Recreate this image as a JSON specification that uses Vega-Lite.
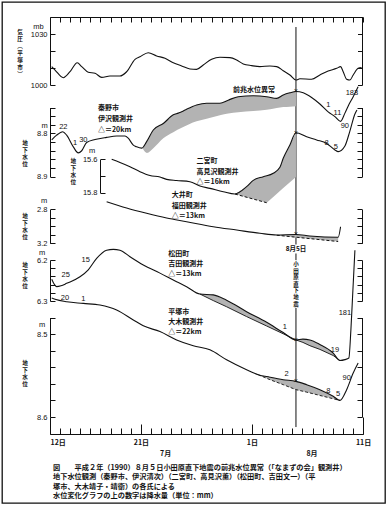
{
"$schema":"https://vega.github.io/schema/vega-lite/v6.json",
"width":383,"height":501,"padding":2,"autosize":"none",
"background":"white",
"config":{"view":{"stroke":"#111","strokeWidth":1.3},
"axis":{"grid":false,"domainColor":"#111","tickColor":"#111","labelColor":"#111","labelFont":"Liberation Sans","labelFontSize":7.5,"domainWidth":1,"tickWidth":1,"labelOverlap":false,"labelFlush":false,"labelBound":false}},
"title":{"text":["図　　平成２年（1990）８月５日小田原直下地震の前兆水位異常（「なまずの会」観測井）","　　　地下水位観測（秦野市、伊沢清次）（二宮町、高見沢薫）（松田町、吉田文一）（平","　　　塚市、大木靖子・靖衛）の各氏による","　　　水位変化グラフの上の数字は降水量（単位：mm）"],"orient":"bottom","anchor":"start","frame":"group","offset":-39,"dx":51,"font":"Noto Sans CJK JP","fontSize":7.2,"fontWeight":"bold","lineHeight":9.3,"color":"#111"},
"datasets":{
"pres":[{"t":0.17,"v":1010.8},{"t":0.5,"v":1008.8},{"t":1.32,"v":1004.3},{"t":1.98,"v":1007.8},{"t":2.7,"v":1013.1},{"t":3.14,"v":1010.8},{"t":3.79,"v":1007.5},{"t":4.46,"v":1006.9},{"t":5.12,"v":1004.5},{"t":5.94,"v":1005.3},{"t":6.93,"v":1005.3},{"t":7.59,"v":1007.8},{"t":8.42,"v":1015.1},{"t":8.91,"v":1016.6},{"t":9.73,"v":1019.0},{"t":10.56,"v":1017.1},{"t":11.39,"v":1015.7},{"t":12.21,"v":1013.1},{"t":13.04,"v":1011.2},{"t":13.86,"v":1009.4},{"t":14.52,"v":1009.2},{"t":15.18,"v":1011.8},{"t":16.01,"v":1015.1},{"t":16.83,"v":1016.3},{"t":17.82,"v":1016.1},{"t":18.49,"v":1014.7},{"t":19.14,"v":1012.4},{"t":19.97,"v":1011.4},{"t":20.79,"v":1010.8},{"t":21.78,"v":1011.2},{"t":22.45,"v":1010.8},{"t":23.1,"v":1008.4},{"t":23.76,"v":1005.9},{"t":24.36,"v":1002.9},{"t":24.75,"v":1003.7},{"t":25.91,"v":1003.4},{"t":26.73,"v":1005.9},{"t":27.55,"v":1008.2},{"t":28.39,"v":1009.8},{"t":28.78,"v":1010.8},{"t":29.04,"v":1007.8},{"t":29.38,"v":1003.4},{"t":29.7,"v":1002.9},{"t":30.03,"v":1005.9},{"t":30.52,"v":1009.8},{"t":30.86,"v":1010.2}],
"quake":[{"t":24.36,"v":1034.1,"v2":798.8}],
"presTxt":[{"t":-1.14,"v":1034.3,"s":"mb"}],
"presTitle":[{"t":-2.97,"v":1032.4,"s":"気\n圧\n︹\n平\n塚\n市\n︺"}],
"had":[{"t":0.17,"v":8.815},{"t":0.66,"v":8.804},{"t":1.26,"v":8.796},{"t":1.65,"v":8.804},{"t":2.31,"v":8.831},{"t":2.8,"v":8.845},{"t":3.14,"v":8.84},{"t":3.63,"v":8.821},{"t":4.46,"v":8.814},{"t":5.61,"v":8.809},{"t":6.6,"v":8.806},{"t":7.43,"v":8.806},{"t":7.75,"v":8.811},{"t":8.25,"v":8.827},{"t":8.58,"v":8.831},{"t":9.08,"v":8.834},{"t":9.57,"v":8.819},{"t":10.23,"v":8.792},{"t":11.22,"v":8.777},{"t":12.21,"v":8.757},{"t":12.7,"v":8.753},{"t":13.04,"v":8.75},{"t":13.53,"v":8.744},{"t":14.52,"v":8.734},{"t":15.51,"v":8.73},{"t":16.83,"v":8.73},{"t":17.65,"v":8.723},{"t":18.64,"v":8.715},{"t":20.13,"v":8.713},{"t":21.46,"v":8.715},{"t":22.45,"v":8.719},{"t":23.1,"v":8.711},{"t":23.76,"v":8.706},{"t":24.36,"v":8.703},{"t":25.08,"v":8.706},{"t":25.91,"v":8.717},{"t":26.73,"v":8.732},{"t":27.55,"v":8.75},{"t":28.22,"v":8.761},{"t":28.78,"v":8.772},{"t":29.21,"v":8.753},{"t":29.63,"v":8.732},{"t":30.03,"v":8.715},{"t":30.52,"v":8.692}],
"hadS":[{"t":9.21,"top":8.83,"bot":8.836},{"t":9.6,"top":8.818,"bot":8.845},{"t":10.23,"top":8.792,"bot":8.834},{"t":11.22,"top":8.777,"bot":8.811},{"t":12.21,"top":8.757,"bot":8.797},{"t":13.04,"top":8.75,"bot":8.787},{"t":14.52,"top":8.734,"bot":8.772},{"t":15.51,"top":8.73,"bot":8.766},{"t":16.83,"top":8.73,"bot":8.758},{"t":17.65,"top":8.723,"bot":8.754},{"t":18.64,"top":8.715,"bot":8.751},{"t":20.13,"top":8.713,"bot":8.748},{"t":21.46,"top":8.715,"bot":8.745},{"t":22.45,"top":8.719,"bot":8.741},{"t":23.1,"top":8.711,"bot":8.739},{"t":23.76,"top":8.706,"bot":8.738},{"t":24.36,"top":8.703,"bot":8.737}],
"hadTxt":[{"t":1.32,"v":8.784,"s":"22"},{"t":2.48,"v":8.823,"s":"1"},{"t":3.3,"v":8.814,"s":"30"},{"t":27.56,"v":8.734,"s":"1"},{"t":28.47,"v":8.752,"s":"11"},{"t":29.2,"v":8.783,"s":"90"},{"t":29.9,"v":8.707,"s":"183"},{"t":-0.54,"v":8.782,"s":"m"},{"t":24.36,"v":8.703,"s":"×"}],
"hadLab":[{"t":4.75,"v":8.742,"s":"秦野市"},{"t":4.75,"v":8.767,"s":"伊沢観測井"},{"t":4.75,"v":8.792,"s":"△＝20km"},{"t":18.12,"v":8.6995,"s":"前兆水位異常"}],
"hadTitle":[{"t":-2.48,"v":8.8175,"s":"地\n下\n水\n位"}],
"nin":[{"t":6.11,"v":15.6},{"t":6.93,"v":15.619},{"t":7.92,"v":15.644},{"t":8.91,"v":15.674},{"t":9.9,"v":15.697},{"t":10.89,"v":15.706},{"t":11.55,"v":15.72},{"t":12.54,"v":15.727},{"t":13.86,"v":15.734},{"t":14.85,"v":15.76},{"t":15.84,"v":15.774},{"t":17.16,"v":15.794},{"t":18.32,"v":15.808},{"t":19.47,"v":15.764},{"t":20.13,"v":15.726},{"t":21.12,"v":15.704},{"t":22.11,"v":15.684},{"t":22.77,"v":15.648},{"t":23.1,"v":15.594},{"t":23.76,"v":15.514},{"t":24.36,"v":15.441},{"t":25.42,"v":15.465},{"t":26.41,"v":15.484},{"t":27.4,"v":15.505},{"t":28.22,"v":15.544},{"t":28.54,"v":15.554},{"t":29.21,"v":15.52},{"t":29.7,"v":15.431},{"t":30.2,"v":15.329},{"t":30.4,"v":15.305}],
"ninS":[{"t":18.32,"top":15.808,"bot":15.808},{"t":19.47,"top":15.764,"bot":15.827},{"t":20.13,"top":15.726,"bot":15.838},{"t":21.12,"top":15.704,"bot":15.854},{"t":21.46,"top":15.698,"bot":15.86},{"t":22.11,"top":15.684,"bot":15.825},{"t":22.77,"top":15.648,"bot":15.79},{"t":23.1,"top":15.594,"bot":15.772},{"t":23.76,"top":15.514,"bot":15.737},{"t":24.36,"top":15.441,"bot":15.706}],
"ninD":[{"t":18.32,"v":15.808},{"t":21.46,"v":15.86}],
"ninTxt":[{"t":27.4,"v":15.502,"s":"8"},{"t":28.32,"v":15.528,"s":"5"},{"t":4.16,"v":15.552,"s":"m"},{"t":24.36,"v":15.441,"s":"×"}],
"ninLab":[{"t":14.52,"v":15.61,"s":"二宮町"},{"t":14.52,"v":15.674,"s":"高見沢観測井"},{"t":14.52,"v":15.734,"s":"△＝16km"}],
"ninTitle":[{"t":2.31,"v":15.598,"s":"地\n下\n水\n位"}],
"oi":[{"t":5.61,"v":2.711},{"t":7.59,"v":2.785},{"t":9.57,"v":2.847},{"t":11.55,"v":2.902},{"t":13.53,"v":2.946},{"t":16.17,"v":3.005},{"t":18.49,"v":3.044},{"t":20.79,"v":3.082},{"t":22.45,"v":3.102},{"t":24.36,"v":3.096},{"t":25.74,"v":3.114},{"t":28.54,"v":3.129},{"t":28.78,"v":3.005}],
"oiS":[{"t":22.45,"top":3.102,"bot":3.105},{"t":24.36,"top":3.096,"bot":3.131},{"t":25.74,"top":3.114,"bot":3.146},{"t":27.23,"top":3.122,"bot":3.164},{"t":28.54,"top":3.129,"bot":3.179}],
"oiD":[{"t":22.45,"v":3.105},{"t":28.54,"v":3.179}],
"oiTxt":[{"t":-0.59,"v":2.706,"s":"m"},{"t":24.36,"v":3.096,"s":"×"}],
"oiLab":[{"t":12.05,"v":2.632,"s":"大井町"},{"t":12.05,"v":2.758,"s":"福田観測井"},{"t":12.05,"v":2.875,"s":"△＝13km"}],
"oiTitle":[{"t":-2.48,"v":2.855,"s":"地\n下\n水\n位"}],
"oiGap":[{"t":23.27,"t2":25.45,"v":3.214,"v2":3.32}],
"oiDate":[{"t":24.36,"v":3.267,"s":"8月5日"}],
"mat":[{"t":0.17,"v":6.247},{"t":0.66,"v":6.265},{"t":1.09,"v":6.263},{"t":1.65,"v":6.257},{"t":2.97,"v":6.241},{"t":3.79,"v":6.224},{"t":4.62,"v":6.196},{"t":5.61,"v":6.176},{"t":6.27,"v":6.174},{"t":6.93,"v":6.176},{"t":7.92,"v":6.192},{"t":9.24,"v":6.212},{"t":10.89,"v":6.232},{"t":12.54,"v":6.253},{"t":13.53,"v":6.265},{"t":14.85,"v":6.283},{"t":16.17,"v":6.285},{"t":17.49,"v":6.298},{"t":19.47,"v":6.326},{"t":21.46,"v":6.352},{"t":23.1,"v":6.377},{"t":24.36,"v":6.395},{"t":25.05,"v":6.393},{"t":25.74,"v":6.395},{"t":26.73,"v":6.406},{"t":28.05,"v":6.427},{"t":28.71,"v":6.445},{"t":29.21,"v":6.443},{"t":29.6,"v":6.439},{"t":29.8,"v":6.371},{"t":30.0,"v":6.273},{"t":30.2,"v":6.176}],
"matS":[{"t":14.85,"top":6.283,"bot":6.283},{"t":16.17,"top":6.285,"bot":6.299},{"t":17.49,"top":6.298,"bot":6.314},{"t":19.47,"top":6.326,"bot":6.338},{"t":21.46,"top":6.352,"bot":6.361},{"t":23.1,"top":6.377,"bot":6.38},{"t":24.36,"top":6.395,"bot":6.395},{"t":25.05,"top":6.393,"bot":6.401},{"t":25.74,"top":6.395,"bot":6.409},{"t":26.73,"top":6.406,"bot":6.418},{"t":28.05,"top":6.427,"bot":6.433},{"t":28.71,"top":6.445,"bot":6.445}],
"matTxt":[{"t":1.56,"v":6.237,"s":"25"},{"t":3.54,"v":6.2,"s":"15"},{"t":23.27,"v":6.363,"s":"1"},{"t":28.22,"v":6.42,"s":"19"},{"t":29.21,"v":6.329,"s":"181"},{"t":-0.79,"v":6.183,"s":"m"},{"t":24.36,"v":6.395,"s":"×"}],
"matLab":[{"t":11.71,"v":6.185,"s":"松田町"},{"t":11.71,"v":6.21,"s":"吉田観測井"},{"t":11.71,"v":6.234,"s":"△＝13km"}],
"matTitle":[{"t":-2.48,"v":6.207,"s":"地\n下\n水\n位"}],
"quakeGap":[{"t":24.01,"t2":24.7,"v":6.2,"v2":6.317}],
"quakeName":[{"t":24.36,"v":6.205,"s":"小\n田\n原\n直\n下\n地\n震"}],
"hir":[{"t":0.17,"v":8.4565},{"t":0.5,"v":8.458},{"t":1.65,"v":8.461},{"t":3.3,"v":8.463},{"t":4.95,"v":8.465},{"t":6.6,"v":8.471},{"t":8.25,"v":8.483},{"t":9.24,"v":8.49},{"t":10.89,"v":8.497},{"t":12.54,"v":8.507},{"t":14.19,"v":8.514},{"t":15.84,"v":8.519},{"t":17.49,"v":8.531},{"t":19.47,"v":8.543},{"t":20.62,"v":8.549},{"t":21.78,"v":8.552},{"t":23.1,"v":8.555},{"t":24.36,"v":8.557},{"t":25.42,"v":8.561},{"t":26.73,"v":8.567},{"t":28.05,"v":8.575},{"t":28.71,"v":8.58},{"t":29.38,"v":8.567},{"t":30.03,"v":8.547},{"t":30.52,"v":8.535}],
"hirS":[{"t":20.62,"top":8.549,"bot":8.549},{"t":21.78,"top":8.552,"bot":8.555},{"t":23.1,"top":8.555,"bot":8.561},{"t":24.36,"top":8.557,"bot":8.567},{"t":25.42,"top":8.561,"bot":8.57},{"t":26.73,"top":8.567,"bot":8.574},{"t":28.05,"top":8.575,"bot":8.578},{"t":28.71,"top":8.58,"bot":8.58}],
"hirTxt":[{"t":1.49,"v":8.457,"s":"20"},{"t":3.3,"v":8.458,"s":"1"},{"t":23.43,"v":8.548,"s":"2"},{"t":27.56,"v":8.569,"s":"8"},{"t":28.54,"v":8.572,"s":"5"},{"t":29.38,"v":8.553,"s":"90"},{"t":-0.79,"v":8.489,"s":"m"},{"t":24.36,"v":8.557,"s":"×"}],
"hirLab":[{"t":11.71,"v":8.473,"s":"平塚市"},{"t":11.71,"v":8.485,"s":"大木観測井"},{"t":11.71,"v":8.497,"s":"△＝22km"}],
"hirTitle":[{"t":-2.48,"v":8.532,"s":"地\n下\n水\n位"}]
},
"layer":[
{"data":{"name":"pres"},"mark":{"type":"line","color":"#111","strokeWidth":1.1,"interpolate":"monotone"},
"encoding":{"x":{"field":"t","type":"quantitative","scale":{"domain":[0,31],"range":[48,361],"nice":false,"zero":false},
"axis":{"orient":"bottom","offset":-69,"values":[0,9,20,31],"ticks":false,"domain":true,"labelPadding":4,"labelExpr":"datum.value==0?'12日':datum.value==9?'21日':datum.value==20?'1日':'11日'","labelFont":"Noto Sans CJK JP","labelFontWeight":"bold","labelFontSize":7,"labelAlign":{"condition":{"test":"datum.value==0","value":"left"},"value":"center"},"title":null}},
"y":{"field":"v","type":"quantitative","scale":{"domain":[1000,1040],"range":[83,15],"nice":false,"zero":false},
"axis":{"orient":"left","offset":-48,"values":[1000,1010,1020,1030],"tickSize":-5,"labelPadding":8,"format":"d","labelExpr":"datum.value==1000||datum.value==1030?datum.label:''","title":null}}}},
{"data":{"name":"quake"},"mark":{"type":"rule","color":"#111","strokeWidth":1},
"encoding":{"x":{"field":"t","type":"quantitative","scale":{"domain":[0,31],"range":[48,361],"nice":false,"zero":false},"axis":null},
"y":{"field":"v","type":"quantitative","scale":{"domain":[1000,1040],"range":[83,15],"nice":false,"zero":false},
"axis":{"orient":"right","offset":-23,"values":[1000,1010,1020,1030],"tickSize":-4.5,"labels":false,"title":null}},
"y2":{"field":"v2"}}},
{"data":{"name":"presTxt"},"mark":{"type":"text","font":"Liberation Sans","fontSize":7.5,"color":"#111","align":"center","baseline":"middle"},
"encoding":{"x":{"field":"t","type":"quantitative","scale":{"domain":[0,31],"range":[48,361],"nice":false,"zero":false},"axis":null},
"y":{"field":"v","type":"quantitative","scale":{"domain":[1000,1040],"range":[83,15],"nice":false,"zero":false},"axis":null},"text":{"field":"s"}}},
{"data":{"name":"presTitle"},"mark":{"type":"text","font":"Noto Sans CJK JP","fontWeight":"bold","fontSize":5.6,"lineHeight":7,"lineBreak":"\n","color":"#111","align":"center","baseline":"top"},
"encoding":{"x":{"field":"t","type":"quantitative","scale":{"domain":[0,31],"range":[48,361],"nice":false,"zero":false},"axis":null},
"y":{"field":"v","type":"quantitative","scale":{"domain":[1000,1040],"range":[83,15],"nice":false,"zero":false},"axis":null},"text":{"field":"s"}}},

{"data":{"name":"hadS"},"mark":{"type":"area","color":"#b3b3b3","interpolate":"monotone"},
"encoding":{"x":{"field":"t","type":"quantitative","scale":{"domain":[0,31],"range":[48,361],"nice":false,"zero":false},"axis":null},
"y":{"field":"top","type":"quantitative","scale":{"domain":[8.74,8.9],"range":[105.5,174.7],"nice":false,"zero":false},
"axis":{"orient":"right","offset":-23,"values":[8.74,8.76,8.78,8.8,8.82,8.84,8.86,8.88,8.9],"tickSize":-5,"labels":false,"title":null}},"y2":{"field":"bot"}}},
{"data":{"name":"had"},"mark":{"type":"line","color":"#111","strokeWidth":1.1,"interpolate":"monotone"},
"encoding":{"x":{"field":"t","type":"quantitative","scale":{"domain":[0,31],"range":[48,361],"nice":false,"zero":false},
"axis":{"orient":"bottom","offset":-69,"values":[0,1,2,3,4,5,6,7,8,9,10,11,12,13,14,15,16,17,18,19,20,21,22,23,24,25,26,27,28,29,30,31],"tickSize":-6,"labels":false,"domain":false,"title":null}},
"y":{"field":"v","type":"quantitative","scale":{"domain":[8.74,8.9],"range":[105.5,174.7],"nice":false,"zero":false},
"axis":{"orient":"left","offset":-48,"values":[8.74,8.76,8.78,8.8,8.82,8.84,8.86,8.88,8.9],"tickSize":-5,"labelPadding":8,"labelExpr":"datum.value==8.8||datum.value==8.9?format(datum.value,'.1f'):''","title":null}}}},
{"data":{"name":"hadTxt"},"mark":{"type":"text","font":"Liberation Sans","fontSize":7.5,"color":"#111","align":"center","baseline":"middle"},
"encoding":{"x":{"field":"t","type":"quantitative","scale":{"domain":[0,31],"range":[48,361],"nice":false,"zero":false},"axis":null},
"y":{"field":"v","type":"quantitative","scale":{"domain":[8.74,8.9],"range":[105.5,174.7],"nice":false,"zero":false},"axis":null},"text":{"field":"s"}}},
{"data":{"name":"hadLab"},"mark":{"type":"text","font":"Noto Sans CJK JP","fontWeight":"bold","fontSize":7,"color":"#111","align":"left","baseline":"middle"},
"encoding":{"x":{"field":"t","type":"quantitative","scale":{"domain":[0,31],"range":[48,361],"nice":false,"zero":false},"axis":null},
"y":{"field":"v","type":"quantitative","scale":{"domain":[8.74,8.9],"range":[105.5,174.7],"nice":false,"zero":false},"axis":null},"text":{"field":"s"}}},
{"data":{"name":"hadTitle"},"mark":{"type":"text","font":"Noto Sans CJK JP","fontWeight":"bold","fontSize":5.6,"lineHeight":7,"lineBreak":"\n","color":"#111","align":"center","baseline":"top"},
"encoding":{"x":{"field":"t","type":"quantitative","scale":{"domain":[0,31],"range":[48,361],"nice":false,"zero":false},"axis":null},
"y":{"field":"v","type":"quantitative","scale":{"domain":[8.74,8.9],"range":[105.5,174.7],"nice":false,"zero":false},"axis":null},"text":{"field":"s"}}},

{"data":{"name":"ninS"},"mark":{"type":"area","color":"#b3b3b3","interpolate":"linear"},
"encoding":{"x":{"field":"t","type":"quantitative","scale":{"domain":[0,31],"range":[48,361],"nice":false,"zero":false},"axis":null},
"y":{"field":"top","type":"quantitative","scale":{"domain":[15.6,15.8],"range":[157.3,190.7],"nice":false,"zero":false},"axis":null},"y2":{"field":"bot"}}},
{"data":{"name":"ninD"},"mark":{"type":"line","color":"#111","strokeWidth":1,"strokeDash":[3,2]},
"encoding":{"x":{"field":"t","type":"quantitative","scale":{"domain":[0,31],"range":[48,361],"nice":false,"zero":false},"axis":null},
"y":{"field":"v","type":"quantitative","scale":{"domain":[15.6,15.8],"range":[157.3,190.7],"nice":false,"zero":false},"axis":null}}},
{"data":{"name":"nin"},"mark":{"type":"line","color":"#111","strokeWidth":1.1,"interpolate":"monotone"},
"encoding":{"x":{"field":"t","type":"quantitative","scale":{"domain":[0,31],"range":[48,361],"nice":false,"zero":false},
"axis":{"orient":"bottom","offset":-69,"values":[9,20],"tickSize":-10,"labels":false,"domain":false,"title":null}},
"y":{"field":"v","type":"quantitative","scale":{"domain":[15.6,15.8],"range":[157.3,190.7],"nice":false,"zero":false},
"axis":{"orient":"left","offset":-98,"values":[15.6,15.7,15.8],"tickSize":-5,"labelPadding":8,"labelExpr":"datum.value==15.6||datum.value==15.8?format(datum.value,'.1f'):''","title":null}}}},
{"data":{"name":"ninTxt"},"mark":{"type":"text","font":"Liberation Sans","fontSize":7.5,"color":"#111","align":"center","baseline":"middle"},
"encoding":{"x":{"field":"t","type":"quantitative","scale":{"domain":[0,31],"range":[48,361],"nice":false,"zero":false},"axis":null},
"y":{"field":"v","type":"quantitative","scale":{"domain":[15.6,15.8],"range":[157.3,190.7],"nice":false,"zero":false},"axis":null},"text":{"field":"s"}}},
{"data":{"name":"ninLab"},"mark":{"type":"text","font":"Noto Sans CJK JP","fontWeight":"bold","fontSize":7,"color":"#111","align":"left","baseline":"middle"},
"encoding":{"x":{"field":"t","type":"quantitative","scale":{"domain":[0,31],"range":[48,361],"nice":false,"zero":false},"axis":null},
"y":{"field":"v","type":"quantitative","scale":{"domain":[15.6,15.8],"range":[157.3,190.7],"nice":false,"zero":false},"axis":null},"text":{"field":"s"}}},
{"data":{"name":"ninTitle"},"mark":{"type":"text","font":"Noto Sans CJK JP","fontWeight":"bold","fontSize":5.6,"lineHeight":7,"lineBreak":"\n","color":"#111","align":"center","baseline":"top"},
"encoding":{"x":{"field":"t","type":"quantitative","scale":{"domain":[0,31],"range":[48,361],"nice":false,"zero":false},"axis":null},
"y":{"field":"v","type":"quantitative","scale":{"domain":[15.6,15.8],"range":[157.3,190.7],"nice":false,"zero":false},"axis":null},"text":{"field":"s"}}},

{"data":{"name":"oiS"},"mark":{"type":"area","color":"#b3b3b3"},
"encoding":{"x":{"field":"t","type":"quantitative","scale":{"domain":[0,31],"range":[48,361],"nice":false,"zero":false},"axis":null},
"y":{"field":"top","type":"quantitative","scale":{"domain":[2.8,3.2],"range":[207.3,241.3],"nice":false,"zero":false},
"axis":{"orient":"right","offset":-23,"values":[2.8,2.9,3.0,3.1,3.2],"tickSize":-5,"labels":false,"title":null}},"y2":{"field":"bot"}}},
{"data":{"name":"oiD"},"mark":{"type":"line","color":"#111","strokeWidth":1,"strokeDash":[3,2]},
"encoding":{"x":{"field":"t","type":"quantitative","scale":{"domain":[0,31],"range":[48,361],"nice":false,"zero":false},"axis":null},
"y":{"field":"v","type":"quantitative","scale":{"domain":[2.8,3.2],"range":[207.3,241.3],"nice":false,"zero":false},"axis":null}}},
{"data":{"name":"oi"},"mark":{"type":"line","color":"#111","strokeWidth":1.1,"interpolate":"monotone"},
"encoding":{"x":{"field":"t","type":"quantitative","scale":{"domain":[0,31],"range":[48,361],"nice":false,"zero":false},
"axis":{"orient":"bottom","offset":-69,"values":[0,31],"tickSize":-17,"labels":false,"domain":false,"title":null}},
"y":{"field":"v","type":"quantitative","scale":{"domain":[2.8,3.2],"range":[207.3,241.3],"nice":false,"zero":false},
"axis":{"orient":"left","offset":-48,"values":[2.8,2.9,3.0,3.1,3.2],"tickSize":-5,"labelPadding":8,"labelExpr":"datum.value==2.8||datum.value==3.2?format(datum.value,'.1f'):''","title":null}}}},
{"data":{"name":"oiTxt"},"mark":{"type":"text","font":"Liberation Sans","fontSize":7.5,"color":"#111","align":"center","baseline":"middle"},
"encoding":{"x":{"field":"t","type":"quantitative","scale":{"domain":[0,31],"range":[48,361],"nice":false,"zero":false},"axis":null},
"y":{"field":"v","type":"quantitative","scale":{"domain":[2.8,3.2],"range":[207.3,241.3],"nice":false,"zero":false},"axis":null},"text":{"field":"s"}}},
{"data":{"name":"oiLab"},"mark":{"type":"text","font":"Noto Sans CJK JP","fontWeight":"bold","fontSize":7,"color":"#111","align":"left","baseline":"middle"},
"encoding":{"x":{"field":"t","type":"quantitative","scale":{"domain":[0,31],"range":[48,361],"nice":false,"zero":false},"axis":null},
"y":{"field":"v","type":"quantitative","scale":{"domain":[2.8,3.2],"range":[207.3,241.3],"nice":false,"zero":false},"axis":null},"text":{"field":"s"}}},
{"data":{"name":"oiTitle"},"mark":{"type":"text","font":"Noto Sans CJK JP","fontWeight":"bold","fontSize":5.6,"lineHeight":7,"lineBreak":"\n","color":"#111","align":"center","baseline":"top"},
"encoding":{"x":{"field":"t","type":"quantitative","scale":{"domain":[0,31],"range":[48,361],"nice":false,"zero":false},"axis":null},
"y":{"field":"v","type":"quantitative","scale":{"domain":[2.8,3.2],"range":[207.3,241.3],"nice":false,"zero":false},"axis":null},"text":{"field":"s"}}},
{"data":{"name":"oiGap"},"mark":{"type":"rect","color":"white"},
"encoding":{"x":{"field":"t","type":"quantitative","scale":{"domain":[0,31],"range":[48,361],"nice":false,"zero":false},"axis":null},"x2":{"field":"t2"},
"y":{"field":"v","type":"quantitative","scale":{"domain":[2.8,3.2],"range":[207.3,241.3],"nice":false,"zero":false},"axis":null},"y2":{"field":"v2"}}},
{"data":{"name":"oiDate"},"mark":{"type":"text","font":"Noto Sans CJK JP","fontWeight":"bold","fontSize":6.5,"color":"#111","align":"center","baseline":"middle"},
"encoding":{"x":{"field":"t","type":"quantitative","scale":{"domain":[0,31],"range":[48,361],"nice":false,"zero":false},"axis":null},
"y":{"field":"v","type":"quantitative","scale":{"domain":[2.8,3.2],"range":[207.3,241.3],"nice":false,"zero":false},"axis":null},"text":{"field":"s"}}},

{"data":{"name":"matS"},"mark":{"type":"area","color":"#b3b3b3"},
"encoding":{"x":{"field":"t","type":"quantitative","scale":{"domain":[0,31],"range":[48,361],"nice":false,"zero":false},"axis":null},
"y":{"field":"top","type":"quantitative","scale":{"domain":[6.2,6.3],"range":[258,299],"nice":false,"zero":false},
"axis":{"orient":"right","offset":-23,"values":[6.2,6.22,6.24,6.26,6.28,6.3],"tickSize":-5,"labels":false,"title":null}},"y2":{"field":"bot"}}},
{"data":{"name":"matS"},"mark":{"type":"line","color":"#111","strokeWidth":0.9},
"encoding":{"x":{"field":"t","type":"quantitative","scale":{"domain":[0,31],"range":[48,361],"nice":false,"zero":false},"axis":null},
"y":{"field":"bot","type":"quantitative","scale":{"domain":[6.2,6.3],"range":[258,299],"nice":false,"zero":false},"axis":null}}},
{"data":{"name":"mat"},"mark":{"type":"line","color":"#111","strokeWidth":1.1,"interpolate":"monotone"},
"encoding":{"x":{"field":"t","type":"quantitative","scale":{"domain":[0,31],"range":[48,361],"nice":false,"zero":false},
"axis":{"orient":"top","offset":-15,"values":[0,1,2,3,4,5,6,7,8,9,10,11,12,13,14,15,16,17,18,19,20,21,22,23,24,25,26,27,28,29,30,31],"tickSize":-5,"labels":false,"domain":true,"title":null}},
"y":{"field":"v","type":"quantitative","scale":{"domain":[6.2,6.3],"range":[258,299],"nice":false,"zero":false},
"axis":{"orient":"left","offset":-48,"values":[6.2,6.22,6.24,6.26,6.28,6.3],"tickSize":-5,"labelPadding":8,"labelExpr":"datum.value==6.2||datum.value==6.3?format(datum.value,'.1f'):''","title":null}}}},
{"data":{"name":"matTxt"},"mark":{"type":"text","font":"Liberation Sans","fontSize":7.5,"color":"#111","align":"center","baseline":"middle"},
"encoding":{"x":{"field":"t","type":"quantitative","scale":{"domain":[0,31],"range":[48,361],"nice":false,"zero":false},"axis":null},
"y":{"field":"v","type":"quantitative","scale":{"domain":[6.2,6.3],"range":[258,299],"nice":false,"zero":false},"axis":null},"text":{"field":"s"}}},
{"data":{"name":"matLab"},"mark":{"type":"text","font":"Noto Sans CJK JP","fontWeight":"bold","fontSize":7,"color":"#111","align":"left","baseline":"middle"},
"encoding":{"x":{"field":"t","type":"quantitative","scale":{"domain":[0,31],"range":[48,361],"nice":false,"zero":false},"axis":null},
"y":{"field":"v","type":"quantitative","scale":{"domain":[6.2,6.3],"range":[258,299],"nice":false,"zero":false},"axis":null},"text":{"field":"s"}}},
{"data":{"name":"matTitle"},"mark":{"type":"text","font":"Noto Sans CJK JP","fontWeight":"bold","fontSize":5.6,"lineHeight":7,"lineBreak":"\n","color":"#111","align":"center","baseline":"top"},
"encoding":{"x":{"field":"t","type":"quantitative","scale":{"domain":[0,31],"range":[48,361],"nice":false,"zero":false},"axis":null},
"y":{"field":"v","type":"quantitative","scale":{"domain":[6.2,6.3],"range":[258,299],"nice":false,"zero":false},"axis":null},"text":{"field":"s"}}},
{"data":{"name":"quakeGap"},"mark":{"type":"rect","color":"white"},
"encoding":{"x":{"field":"t","type":"quantitative","scale":{"domain":[0,31],"range":[48,361],"nice":false,"zero":false},"axis":null},"x2":{"field":"t2"},
"y":{"field":"v","type":"quantitative","scale":{"domain":[6.2,6.3],"range":[258,299],"nice":false,"zero":false},"axis":null},"y2":{"field":"v2"}}},
{"data":{"name":"quakeName"},"mark":{"type":"text","font":"Noto Sans CJK JP","fontWeight":"bold","fontSize":5.5,"lineHeight":6.6,"lineBreak":"\n","color":"#111","align":"center","baseline":"top"},
"encoding":{"x":{"field":"t","type":"quantitative","scale":{"domain":[0,31],"range":[48,361],"nice":false,"zero":false},"axis":null},
"y":{"field":"v","type":"quantitative","scale":{"domain":[6.2,6.3],"range":[258,299],"nice":false,"zero":false},"axis":null},"text":{"field":"s"}}},

{"data":{"name":"hirS"},"mark":{"type":"area","color":"#b3b3b3"},
"encoding":{"x":{"field":"t","type":"quantitative","scale":{"domain":[0,31],"range":[48,361],"nice":false,"zero":false},"axis":null},
"y":{"field":"top","type":"quantitative","scale":{"domain":[8.48,8.6],"range":[315.5,415],"nice":false,"zero":false},
"axis":{"orient":"right","offset":-23,"values":[8.48,8.5,8.52,8.54,8.56,8.58,8.6],"tickSize":-5,"labels":false,"title":null}},"y2":{"field":"bot"}}},
{"data":{"name":"hirS"},"mark":{"type":"line","color":"#111","strokeWidth":0.9,"strokeDash":[3,2]},
"encoding":{"x":{"field":"t","type":"quantitative","scale":{"domain":[0,31],"range":[48,361],"nice":false,"zero":false},"axis":null},
"y":{"field":"bot","type":"quantitative","scale":{"domain":[8.48,8.6],"range":[315.5,415],"nice":false,"zero":false},"axis":null}}},
{"data":{"name":"hir"},"mark":{"type":"line","color":"#111","strokeWidth":1.1,"interpolate":"monotone"},
"encoding":{"x":{"field":"t","type":"quantitative","scale":{"domain":[0,31],"range":[48,361],"nice":false,"zero":false},
"axis":{"orient":"bottom","offset":-69,"values":[11.4,25.9],"ticks":false,"domain":false,"labelPadding":15.5,"labelExpr":"datum.value<20?'7月':'8月'","labelFont":"Noto Sans CJK JP","labelFontWeight":"bold","labelFontSize":7,"labelAlign":"center","title":null}},
"y":{"field":"v","type":"quantitative","scale":{"domain":[8.48,8.6],"range":[315.5,415],"nice":false,"zero":false},
"axis":{"orient":"left","offset":-48,"values":[8.48,8.5,8.52,8.54,8.56,8.58,8.6],"tickSize":-5,"labelPadding":8,"labelExpr":"datum.value==8.5||datum.value==8.6?format(datum.value,'.1f'):''","title":null}}}},
{"data":{"name":"hirTxt"},"mark":{"type":"text","font":"Liberation Sans","fontSize":7.5,"color":"#111","align":"center","baseline":"middle"},
"encoding":{"x":{"field":"t","type":"quantitative","scale":{"domain":[0,31],"range":[48,361],"nice":false,"zero":false},"axis":null},
"y":{"field":"v","type":"quantitative","scale":{"domain":[8.48,8.6],"range":[315.5,415],"nice":false,"zero":false},"axis":null},"text":{"field":"s"}}},
{"data":{"name":"hirLab"},"mark":{"type":"text","font":"Noto Sans CJK JP","fontWeight":"bold","fontSize":7,"color":"#111","align":"left","baseline":"middle"},
"encoding":{"x":{"field":"t","type":"quantitative","scale":{"domain":[0,31],"range":[48,361],"nice":false,"zero":false},"axis":null},
"y":{"field":"v","type":"quantitative","scale":{"domain":[8.48,8.6],"range":[315.5,415],"nice":false,"zero":false},"axis":null},"text":{"field":"s"}}},
{"data":{"name":"hirTitle"},"mark":{"type":"text","font":"Noto Sans CJK JP","fontWeight":"bold","fontSize":5.6,"lineHeight":7,"lineBreak":"\n","color":"#111","align":"center","baseline":"top"},
"encoding":{"x":{"field":"t","type":"quantitative","scale":{"domain":[0,31],"range":[48,361],"nice":false,"zero":false},"axis":null},
"y":{"field":"v","type":"quantitative","scale":{"domain":[8.48,8.6],"range":[315.5,415],"nice":false,"zero":false},"axis":null},"text":{"field":"s"}}}
],
"resolve":{"scale":{"y":"independent"},"axis":{"x":"independent","y":"independent"}}
}
